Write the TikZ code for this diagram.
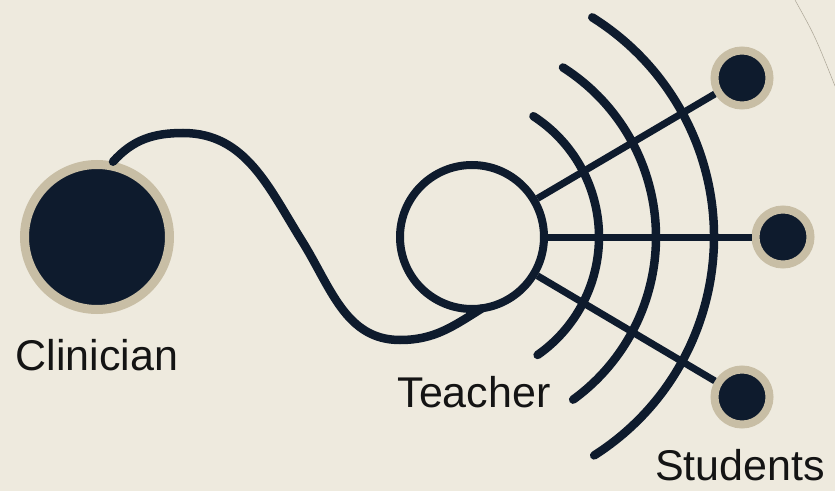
\documentclass[tikz,border=0pt]{standalone}
\usepackage{fontspec}
\setmainfont{Liberation Sans}
\usetikzlibrary{calc,positioning}
\definecolor{navy}{HTML}{0E1B2D}
\definecolor{paper}{HTML}{EEEADE}
\definecolor{rim}{HTML}{C8BEA5}
\definecolor{ink}{HTML}{141414}
\tikzset{link/.style={draw=navy, line width=8.5pt, line cap=round},
  spoke/.style={draw=navy, line width=7pt},
  dot/.style={circle, fill=navy, draw=rim, inner sep=0pt},
  lbl/.style={font=\fontsize{43}{50}\selectfont, text=ink, anchor=base, inner sep=0pt}}

\begin{document}
\begin{tikzpicture}[x=1pt, y=1pt]
  \fill[paper] (0,0) rectangle (835,491);
  \useasboundingbox (0,0) rectangle (835,491);
  % people
  \node[dot, line width=9pt, minimum size=145pt] (clin) at (97,254) {};
  \node[circle, draw=navy, fill=paper, line width=8pt, minimum size=144pt, inner sep=0pt] (teach) at (472,254) {};
  \node[dot, line width=8pt, minimum size=55pt] (stA) at (742,413) {};
  \node[dot, line width=8pt, minimum size=55pt] (stB) at (783,254) {};
  \node[dot, line width=8pt, minimum size=55pt] (stC) at (742,94) {};
  % wavy link clinician -> teacher
  \coordinate (join) at ($(teach.center)+(-82:72)$);
  \draw[link] (clin.78) to[out=48,in=180] (183,358) to[out=0,in=122] (302,250)
    to[out=-58,in=180] (400,151) to[out=0,in=-148] (join);
  % spokes
  \draw[spoke] (teach) -- (stA);
  \draw[spoke] (teach) -- (stB);
  \draw[spoke] (teach) -- (stC);
  % waves
  \coordinate (hub) at (455,254);
  \foreach \r/\a/\b in {144/-55/57, 201/-54/57.5, 259/-57.5/58}
    \draw[link] ($(hub)+(\a:\r)$) arc[start angle=\a, end angle=\b, radius=\r];
  % labels
  \node[lbl] (clinlbl) at (97,121) {Clinician};
  \node[lbl] (teachlbl) at (474,84) {Teacher};
  \node[lbl] (stulbl) at (740,11) {Students};
  % faint stroke, top right
  \draw[rim!60!gray, line width=0.5pt] (795,491) .. controls (815,455) .. (835,405);
\end{tikzpicture}
\end{document}
